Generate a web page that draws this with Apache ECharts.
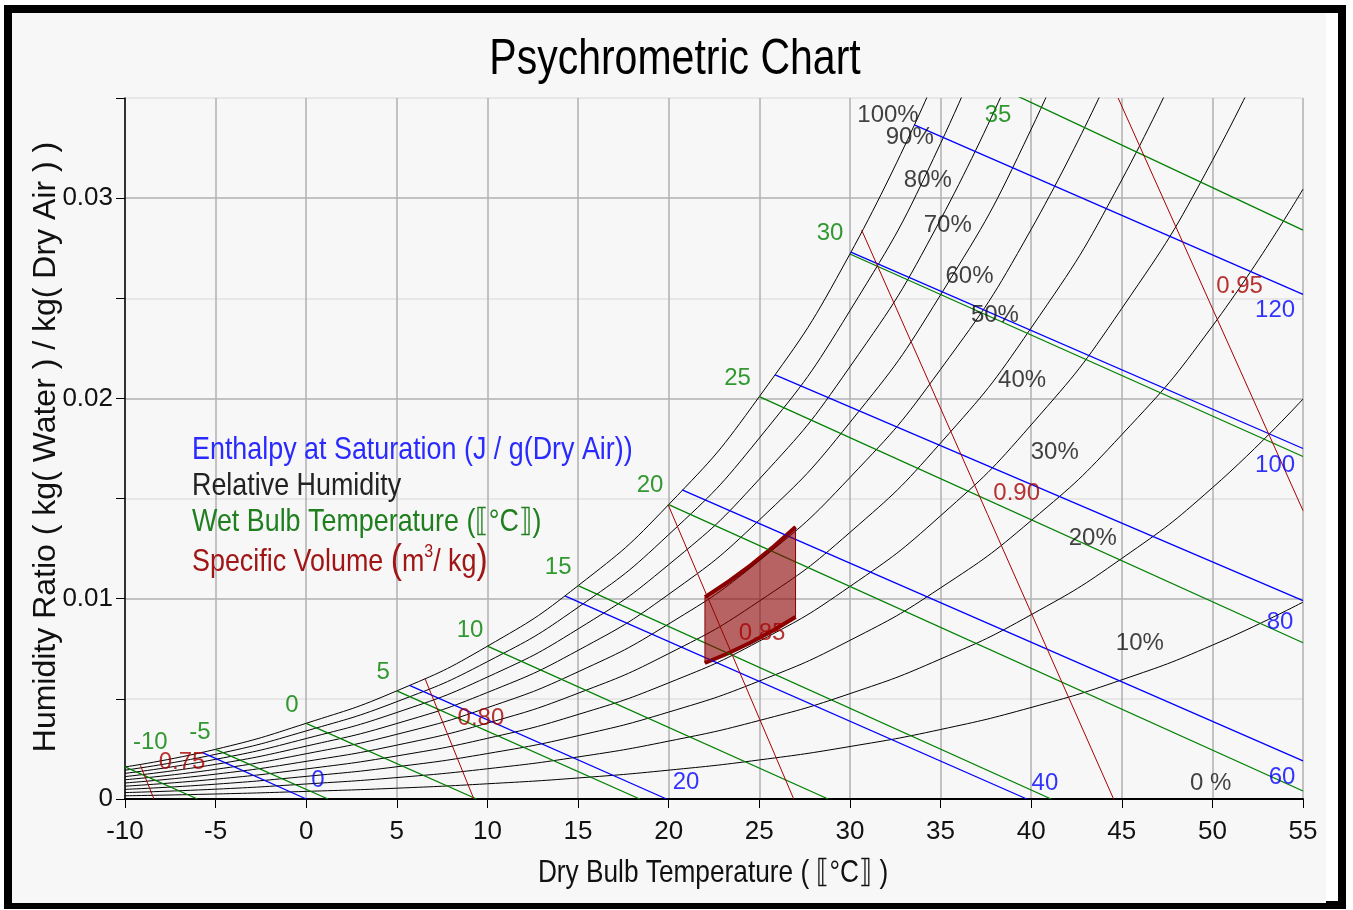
<!DOCTYPE html>
<html>
<head>
<meta charset="utf-8">
<title>Psychrometric Chart</title>
<script src="https://cdn.jsdelivr.net/npm/echarts@6/dist/echarts.min.js"></script>
<style>
    html, body { margin: 0; padding: 0; background: #fff; }
    #main { width: 1353px; height: 910px; }
</style>
</head>
<body>
<div id="main"></div>
<script>
// dry bulb temperatures (°C) used by the relative humidity curves
var temps = [-10, -5, 0, 5, 10, 15, 20, 25, 30, 35, 40, 45, 50, 55];

// humidity ratio (kg/kg) of each relative humidity curve at the temps above
var rh100 = [0.00160, 0.00248, 0.00378, 0.00540, 0.00763, 0.01065, 0.01470, 0.02009, 0.02721, 0.03659];
var rh90 = [0.00144, 0.00223, 0.00340, 0.00486, 0.00686, 0.00957, 0.01320, 0.01802, 0.02438, 0.03273, 0.04366];
var rh80 = [0.00128, 0.00198, 0.00302, 0.00432, 0.00609, 0.00849, 0.01170, 0.01597, 0.02158, 0.02893, 0.03851];
var rh70 = [0.00112, 0.00173, 0.00264, 0.00377, 0.00532, 0.00742, 0.01022, 0.01393, 0.01880, 0.02517, 0.03344, 0.04415];
var rh60 = [0.00096, 0.00148, 0.00226, 0.00323, 0.00456, 0.00635, 0.00874, 0.01190, 0.01605, 0.02145, 0.02844, 0.03747];
var rh50 = [0.00080, 0.00124, 0.00188, 0.00269, 0.00379, 0.00528, 0.00726, 0.00988, 0.01331, 0.01777, 0.02352, 0.03091, 0.04037];
var rh40 = [0.00064, 0.00099, 0.00150, 0.00215, 0.00303, 0.00422, 0.00580, 0.00788, 0.01061, 0.01414, 0.01868, 0.02449, 0.03188, 0.04127];
var rh30 = [0.00048, 0.00074, 0.00113, 0.00161, 0.00227, 0.00316, 0.00434, 0.00589, 0.00792, 0.01054, 0.01390, 0.01819, 0.02361, 0.03045];
var rh20 = [0.00032, 0.00049, 0.00075, 0.00107, 0.00151, 0.00210, 0.00289, 0.00392, 0.00526, 0.00699, 0.00920, 0.01201, 0.01554, 0.01997];
var rh10 = [0.00016, 0.00025, 0.00038, 0.00054, 0.00076, 0.00105, 0.00144, 0.00195, 0.00262, 0.00347, 0.00457, 0.00595, 0.00768, 0.00983];
var rh0 = [0, 0, 0, 0, 0, 0, 0, 0, 0, 0, 0, 0, 0, 0];
var rhCurves = [rh100, rh90, rh80, rh70, rh60, rh50, rh40, rh30, rh20, rh10, rh0];

var rhNames = ['100%', '90%', '80%', '70%', '60%', '50%', '40%', '30%', '20%', '10%', '0 %'];
var rhLabelAt = [[32.1, 0.03415], [33.3, 0.03305], [34.3, 0.0309], [35.4, 0.02866], [36.6, 0.02611], [38.0, 0.02416],
    [39.5, 0.02092], [41.3, 0.01732], [43.4, 0.01303], [46.0, 0.00779], [49.9, 0.0008]];

// wet bulb lines: saturation point -> end point  [T, W]
var wbNames = ['-10', '-5', '0', '5', '10', '15', '20', '25', '30', '35'];
var wbStart = [[-10, 0.00160], [-5, 0.00248], [0, 0.00378], [5, 0.00540], [10, 0.00763], [15, 0.01065],
    [20, 0.01470], [25, 0.02009], [30, 0.02721], [35, 0.03690]];
var wbEnd = [[-6.0, 0], [1.2, 0], [9.4, 0], [18.4, 0], [28.8, 0], [41.1, 0],
    [55, 0.00040], [55, 0.00780], [55, 0.01710], [55, 0.02840]];
var wbLabelAt = [[-8.6, 0.00285], [-5.86, 0.00334], [-0.79, 0.00469], [4.24, 0.00634], [9.04, 0.00844], [13.9, 0.01158],
    [18.97, 0.01568], [23.8, 0.02102], [28.9, 0.02826], [38.17, 0.03415]];

// enthalpy lines (J/g dry air)
var hNames = ['0', '20', '40', '60', '80', '100', '120'];
var hStart = [[-5.75, 0.00233], [5.7, 0.00567], [14.27, 0.01014], [20.74, 0.01543], [25.87, 0.02118], [30.05, 0.02730], [33.55, 0.03366]];
var hEnd = [[0, 0], [19.88, 0], [39.76, 0], [55, 0.00190], [55, 0.00990], [55, 0.01750], [55, 0.02520]];
var hLabelAt = [[0.65, 0.00095], [20.96, 0.00085], [40.76, 0.0008], [53.84, 0.0011], [53.73, 0.00884], [53.46, 0.01667], [53.46, 0.02441]];

// specific volume lines (m3/kg)
var vNames = ['0.75', '0.80', '0.85', '0.90', '0.95'];
var vStart = [[-9.15, 0.00168], [6.55, 0.00602], [19.97, 0.01469], [30.65, 0.0284], [44.8, 0.035]];
var vEnd = [[-8.4, 0], [9.25, 0], [26.9, 0], [44.55, 0], [55, 0.0144]];
var vLabelAt = [[-6.85, 0.00185], [9.64, 0.00404], [25.15, 0.00829], [39.2, 0.01528], [51.5, 0.02561]];

// comfort zone, 22-27 °C between two humidity bounds
var comfortT = [22, 24.5, 27];
var comfortLow = [0.00679, 0.00780, 0.00909];
var comfortHigh = [0.01008, 0.01165, 0.01358];

var FONT = '"Liberation Sans Narrow", "Liberation Sans", Arial, sans-serif';
var BLUE = '#0000ff', GREEN = '#008000', RED = '#a80000', DARK = '#8b0000';
var NARROW = 0.84;   // the reference uses a condensed face

var chart = echarts.init(document.getElementById('main'));

function lineOf(points, color, width, smooth) {
    return {
        type: 'line',
        data: points,
        symbol: 'none',
        smooth: smooth || false,
        silent: true,
        lineStyle: { color: color, width: width },
        z: 3
    };
}

function labelsOf(anchors, names, color) {
    return {
        type: 'scatter',
        data: anchors.map(function (p, i) { return { value: p, name: names[i] }; }),
        symbolSize: 1,
        silent: true,
        itemStyle: { color: 'rgba(0,0,0,0)' },
        label: {
            show: true,
            position: 'inside',
            formatter: '{b}',
            color: color,
            fontSize: 24,
            fontFamily: FONT
        },
        z: 6
    };
}

function textEl(x, y, text, font, fill, extra) {
    var el = {
        type: 'text', z: 10, silent: true,
        x: x, y: y, scaleX: NARROW,
        style: { x: 0, y: 0, text: text, font: font, fill: fill, verticalAlign: 'middle' }
    };
    for (var k in extra) el[k] = extra[k];
    return el;
}

var series = [];

// comfort zone polygon
series.push({
    type: 'custom',
    silent: true,
    data: [0],
    renderItem: function (params, api) {
        var pts = [];
        for (var i = 0; i < comfortT.length; i++) pts.push(api.coord([comfortT[i], comfortLow[i]]));
        for (var j = comfortT.length - 1; j >= 0; j--) pts.push(api.coord([comfortT[j], comfortHigh[j]]));
        return {
            type: 'polygon',
            shape: { points: pts, smooth: 0 },
            style: { fill: 'rgba(140,0,0,0.6)', stroke: DARK, lineWidth: 1 }
        };
    },
    z: 4
});
series.push(lineOf(comfortT.map(function (t, i) { return [t, comfortLow[i]]; }), DARK, 4, true));
series.push(lineOf(comfortT.map(function (t, i) { return [t, comfortHigh[i]]; }), DARK, 4, true));

// relative humidity curves
rhCurves.forEach(function (c) {
    series.push(lineOf(c.map(function (w, i) { return [temps[i], w]; }), '#000', 1, true));
});
// wet bulb, enthalpy, volume lines
wbStart.forEach(function (p, i) { series.push(lineOf([p, wbEnd[i]], GREEN, 1.3)); });
hStart.forEach(function (p, i) { series.push(lineOf([p, hEnd[i]], BLUE, 1.3)); });
vStart.forEach(function (p, i) { series.push(lineOf([p, vEnd[i]], RED, 1)); });

series.push(labelsOf(rhLabelAt, rhNames, '#111'));
series.push(labelsOf(wbLabelAt, wbNames, GREEN));
series.push(labelsOf(hLabelAt, hNames, BLUE));
series.push(labelsOf(vLabelAt, vNames, RED));

var legendFont = '32px ' + FONT;
var redText = '#a01515';

var option = {
    backgroundColor: '#fff',
    animation: false,
    grid: { left: 125, right: 50, top: 98, bottom: 111 },
    xAxis: {
        type: 'value',
        min: -10,
        max: 55,
        interval: 5,
        axisLine: { onZero: false, lineStyle: { color: '#000', width: 2 } },
        axisTick: { length: 9, lineStyle: { color: '#000' } },
        axisLabel: { fontSize: 26, fontFamily: FONT, color: '#111', margin: 20 },
        splitLine: { show: true, lineStyle: { color: '#b0b0b0', width: 1.5 } }
    },
    yAxis: {
        type: 'value',
        min: 0,
        max: 0.035,
        interval: 0.005,
        axisLine: { show: true, onZero: false, lineStyle: { color: '#000', width: 1.5 } },
        axisTick: { show: true, length: 9, lineStyle: { color: '#000' } },
        axisLabel: {
            fontSize: 26,
            fontFamily: FONT,
            color: '#111',
            margin: 12,
            formatter: function (v) {
                var r = Math.round(v * 1000);
                if (r % 10 !== 0) return '';
                return r === 0 ? '0' : String(+v.toFixed(2));
            }
        },
        splitLine: { show: true, lineStyle: { color: ['#b0b0b0', '#e2e2e2'], width: 1.5 } }
    },
    graphic: [
        {
            type: 'rect', z: -100, silent: true,
            shape: { x: 8, y: 9, width: 1334, height: 896 },
            style: { fill: '#fff', stroke: '#000', lineWidth: 8 }
        },
        {
            type: 'rect', z: -99, silent: true,
            shape: { x: 12, y: 13, width: 1314, height: 890 },
            style: { fill: '#f7f7f7' }
        },
        // title and axis names
        textEl(675, 60, 'Psychrometric Chart', '50px ' + FONT, '#000', { style: { x: 0, y: 0, text: 'Psychrometric Chart', font: '50px ' + FONT, fill: '#000', align: 'center', verticalAlign: 'middle' }, scaleX: 0.82 }),
        textEl(713, 873, 'Dry Bulb Temperature (\u27E6°C\u27E7)', '', '', { style: { x: 0, y: 0, text: 'Dry Bulb Temperature ( \u27E6°C\u27E7 )', font: '32px ' + FONT, fill: '#111', align: 'center', verticalAlign: 'middle' }, scaleX: 0.82 }),
        {
            type: 'text', z: 10, silent: true,
            x: 46, y: 447, rotation: Math.PI / 2,
            style: { x: 0, y: 0, text: 'Humidity Ratio ( kg( Water ) / kg( Dry Air ) )', font: '32px ' + FONT, fill: '#111', align: 'center', verticalAlign: 'middle' }
        },
        // legend block
        textEl(192, 450, 'Enthalpy at Saturation (J / g(Dry Air))', legendFont, '#2a2aff'),
        textEl(192, 486, 'Relative Humidity', legendFont, '#222'),
        textEl(192, 522, 'Wet Bulb Temperature (\u27E6°C\u27E7)', legendFont, '#1f7f1f'),
        textEl(192, 562, '', '', '', {
            style: {
                x: 0, y: 0, verticalAlign: 'middle',
                text: '{a|Specific Volume }{p|(}{a|m}{s|3}{a|/ kg}{p|)}',
                rich: {
                    a: { font: legendFont, fill: redText },
                    p: { font: '40px ' + FONT, fill: redText },
                    s: { font: '19px ' + FONT, fill: redText, verticalAlign: 'top', padding: [0, 0, 14, 0] }
                }
            }
        })
    ],
    series: series
};

chart.setOption(option);
</script>
</body>
</html>
